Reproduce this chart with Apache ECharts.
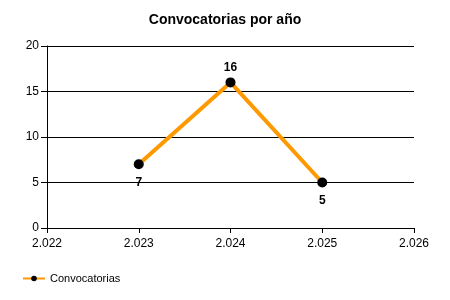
<!DOCTYPE html>
<html><head><meta charset="utf-8">
<script src="https://cdn.jsdelivr.net/npm/echarts@6/dist/echarts.min.js"></script>
<style>html,body{margin:0;padding:0;background:#fff}#c{width:450px;height:300px}</style>
</head><body><div id="c"></div>
<script>
const years = [2023, 2024, 2025];
const values = [7, 16, 5];
const labelPos = ['bottom', 'top', 'bottom'];
const xTicks = [2022, 2023, 2024, 2025, 2026];
const yTicks = [0, 5, 10, 15, 20];

const chart = echarts.init(document.getElementById('c'));
const font = 'Liberation Sans, Arial, sans-serif';
chart.setOption({
  animation: false,
  title: {
    text: 'Convocatorias por año', left: 'center', top: 8,
    textStyle: {fontFamily: font, fontSize: 14, fontWeight: 'bold', color: '#000'}
  },
  legend: {
    left: 17, bottom: 11, itemWidth: 22, itemHeight: 7, itemGap: 5,
    data: ['Convocatorias'],
    textStyle: {fontFamily: font, fontSize: 11, color: '#000'}
  },
  grid: {left: 47, right: 36, top: 46, bottom: 72},
  xAxis: {
    type: 'value', min: 2022, max: 2026, interval: 1,
    axisLine: {lineStyle: {color: '#000'}},
    axisTick: {show: true, length: 5, lineStyle: {color: '#000'}},
    splitLine: {show: false},
    axisLabel: {fontFamily: font, fontSize: 12, color: '#000', margin: 10,
      formatter: v => String(v).replace(/^(\d)(\d{3})$/, '$1.$2')}
  },
  yAxis: {
    type: 'value', min: 0, max: 20, interval: 5,
    axisLine: {show: true, lineStyle: {color: '#000'}},
    axisTick: {show: true, length: 6, lineStyle: {color: '#000'}},
    splitLine: {show: true, lineStyle: {color: '#000', width: 1}},
    axisLabel: {fontFamily: font, fontSize: 12, color: '#000', margin: 8}
  },
  series: [{
    name: 'Convocatorias', type: 'line',
    data: years.map((y, i) => ({value: [y, values[i]],
      label: {position: labelPos[i], distance: labelPos[i] === 'bottom' ? 7 : 4}})),
    lineStyle: {color: '#FF9900', width: 4},
    itemStyle: {color: '#000', borderWidth: 0},
    symbol: 'circle', symbolSize: 10,
    label: {show: true, fontFamily: font, fontSize: 12, fontWeight: 'bold', color: '#000'},
    z: 3
  }]
});
</script></body></html>
